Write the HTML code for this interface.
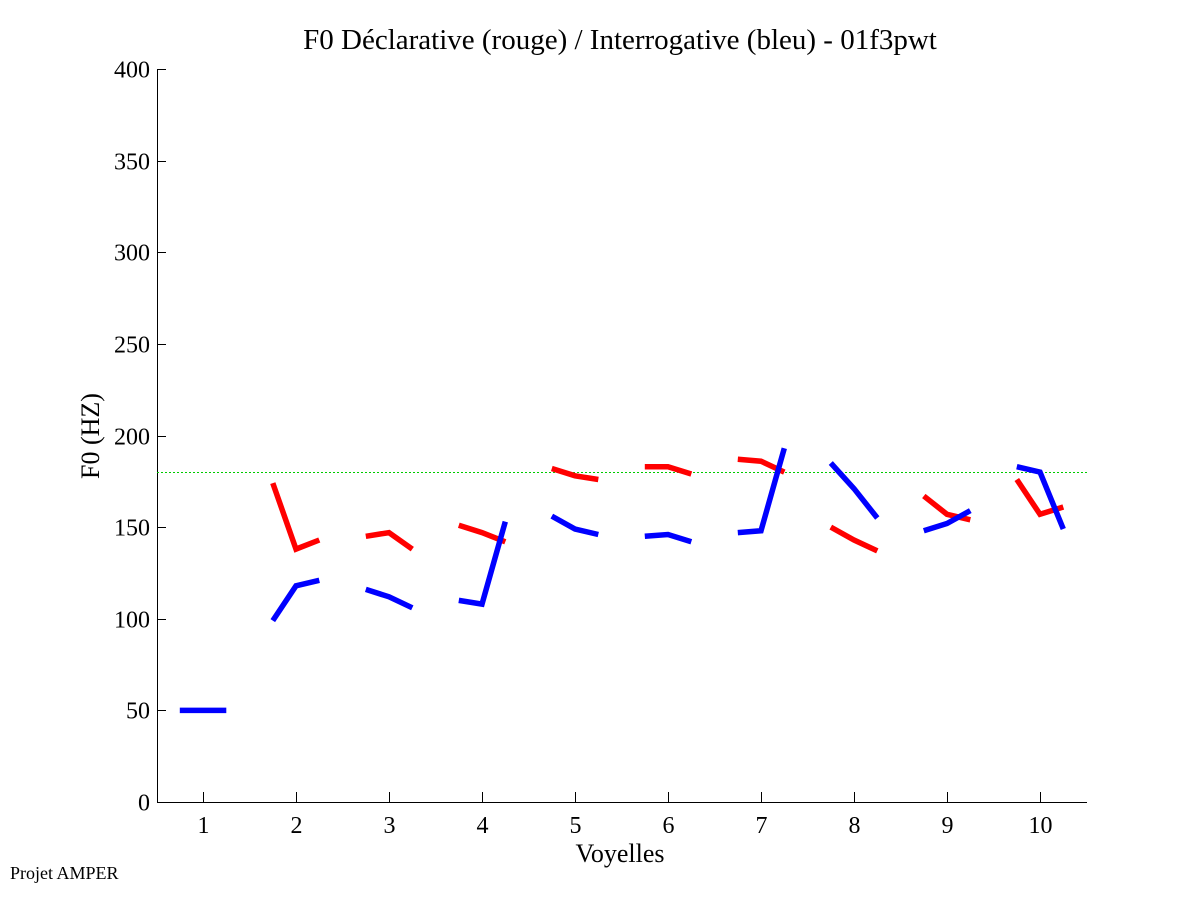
<!DOCTYPE html>
<html><head><meta charset="utf-8"><style>
body{margin:0;background:#fff;}
svg text{font-family:"Liberation Serif",serif;fill:#000;}
</style></head><body>
<svg id="s" width="1201" height="901" xmlns="http://www.w3.org/2000/svg">
<rect width="1201" height="901" fill="#fff"/>
<text x="620" y="49" font-size="29" text-anchor="middle">F0 Déclarative (rouge) / Interrogative (bleu) - 01f3pwt</text>
<text x="620" y="862" font-size="26" text-anchor="middle">Voyelles</text>
<text transform="translate(99,436) rotate(-90)" font-size="26" text-anchor="middle">F0 (HZ)</text>
<text x="10" y="879" font-size="18">Projet AMPER</text>
<g id="ax" stroke="#000" stroke-width="1" fill="none"></g>
<g id="lbl" font-size="24"></g>
<line x1="157" x2="1087" y1="472.5" y2="472.5" stroke="#00cc00" stroke-width="1" stroke-dasharray="2 2"/>
<g id="data" fill="none" stroke-width="5.5" stroke-linejoin="miter"></g>
</svg>
<script>
var ns="http://www.w3.org/2000/svg";
function el(p,t,a,txt){var e=document.createElementNS(ns,t);for(var k in a)e.setAttribute(k,a[k]);if(txt!==undefined)e.textContent=txt;document.getElementById(p).appendChild(e);}
var X=function(v){return 203+(v-1)*93;},Y=function(f){return 802-f*1.8325;};
el('ax','path',{d:'M157.5,69 V802.5 H1087'});
for(var f=0;f<=400;f+=50){var y=Math.round(Y(f))+0.5;el('ax','line',{x1:157,x2:166,y1:y,y2:y});el('lbl','text',{x:150,y:y+8,'text-anchor':'end'},f);}
for(var i=1;i<=10;i++){var x=Math.round(X(i))+0.5;el('ax','line',{x1:x,x2:x,y1:802,y2:792});el('lbl','text',{x:x,y:833,'text-anchor':'middle'},i);}
var blue=[[1,50,50,50],[2,99,118,121],[3,116,112,106],[4,110,108,153],[5,156,149,146],[6,145,146,142],[7,147,148,193],[8,185,171,155],[9,148,152,159],[10,183,180,149]];
var red=[[2,174,138,143],[3,145,147,138],[4,151,147,142],[5,182,178,176],[6,183,183,179],[7,187,186,180],[8,150,143,137],[9,167,157,154],[10,176,157,161]];
function draw(d,c){d.forEach(function(s){var p=[[s[0]-0.25,s[1]],[s[0],s[2]],[s[0]+0.25,s[3]]].map(function(q){return X(q[0]).toFixed(1)+','+Y(q[1]).toFixed(1);}).join(' ');el('data','polyline',{points:p,stroke:c});});}
draw(red,'#ff0000');draw(blue,'#0000ff');
</script>
</body></html>
